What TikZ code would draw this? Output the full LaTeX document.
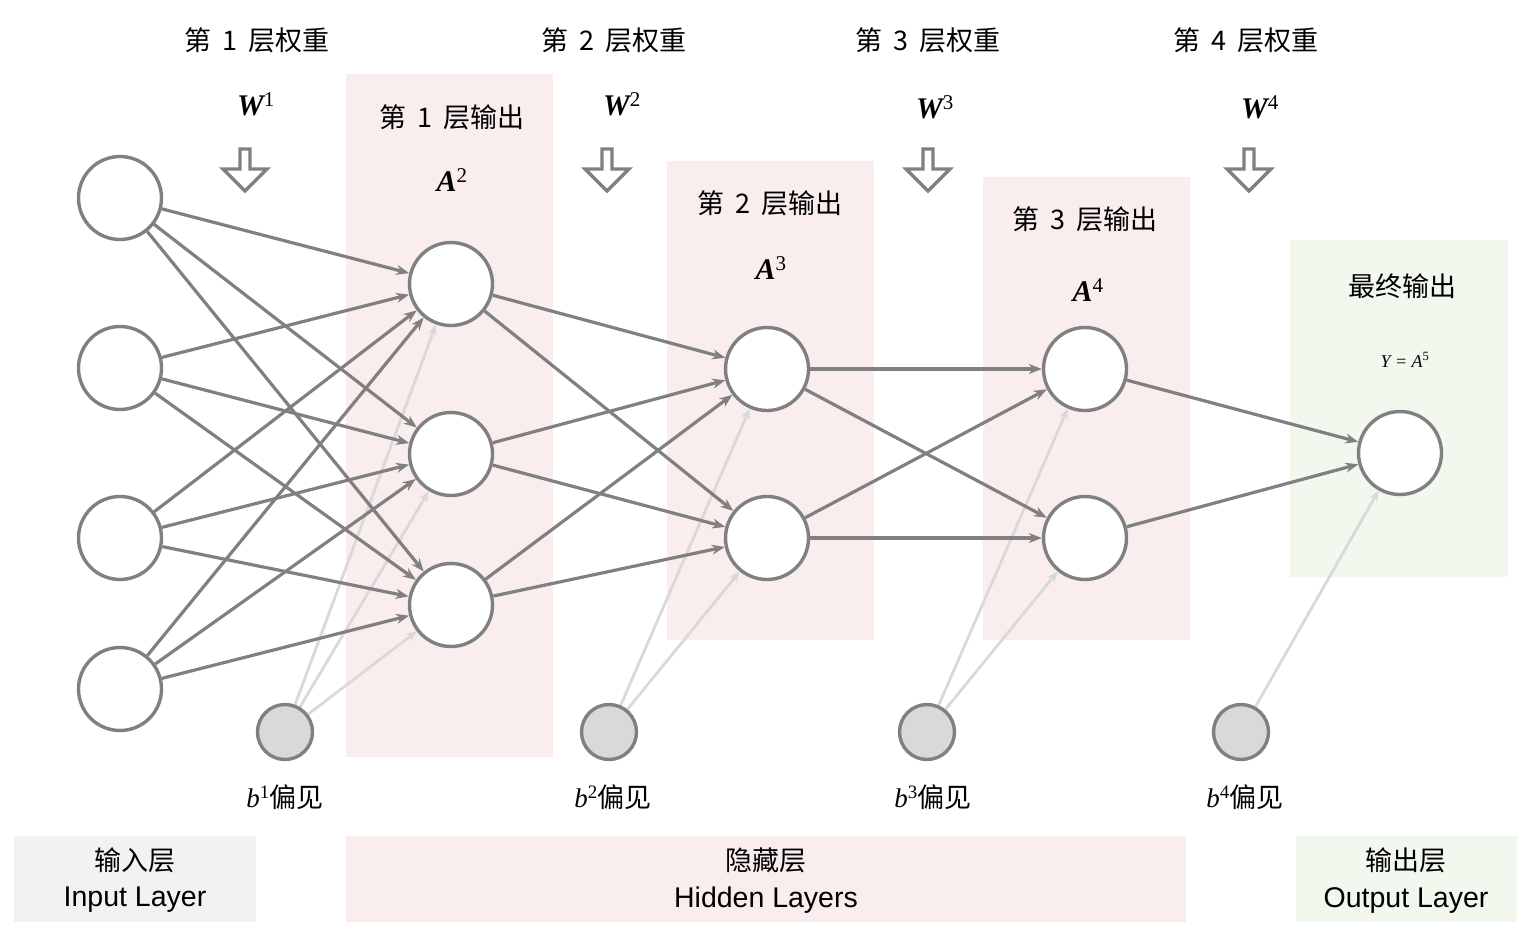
\documentclass[tikz,border=0pt]{standalone}
\usepackage{fontspec}
\setmainfont{Liberation Serif}
\newfontfamily\cjk{Noto Sans CJK SC}
\newfontfamily\lsans{Liberation Sans}
\usetikzlibrary{arrows.meta}
\definecolor{edgecol}{HTML}{808080}
\definecolor{biasedge}{HTML}{D9D9D9}
\definecolor{pinkbg}{HTML}{F9EDED}
\definecolor{greenbg}{HTML}{F3F8EE}
\definecolor{graybg}{HTML}{F2F2F2}
\definecolor{biasfill}{HTML}{D9D9D9}
\pgfdeclarelayer{bg}
\pgfdeclarelayer{edges}
\pgfsetlayers{bg,edges,main}
\tikzset{
  neuron/.style={circle, draw=edgecol, line width=3.4pt, fill=white, minimum size=83pt, inner sep=0pt},
  biasn/.style={circle, draw=edgecol, line width=3.4pt, fill=biasfill, minimum size=55pt, inner sep=0pt},
  conn/.style={draw=edgecol, line width=3.2pt, -{Stealth[length=13pt,width=10pt]}},
  bconn/.style={draw=biasedge, line width=2.8pt, -{Stealth[length=11pt,width=9pt]}},
  ttl/.style={font=\cjk\fontsize{27}{30}\selectfont, inner sep=0pt},
  mlab/.style={font=\fontsize{30}{32}\selectfont\bfseries\itshape, inner sep=0pt},
  blab/.style={font=\fontsize{27}{30}\selectfont, inner sep=0pt},
  enlab/.style={font=\lsans\fontsize{28.5}{30}\selectfont, inner sep=0pt},
  hollow/.style={draw=edgecol, line width=3.4pt, fill=white, line join=miter}
}
\newcommand{\upsup}[1]{\textsuperscript{\normalfont\mdseries\upshape #1}}
\newcommand{\gsp}{\hspace{0.42em}}
\begin{document}
\begin{tikzpicture}[x=1pt,y=-1pt]
\useasboundingbox (0,0) rectangle (1525,929);
% backgrounds
\begin{pgfonlayer}{bg}
\fill[pinkbg] (346,74) rectangle (553,757);
\fill[pinkbg] (667,161) rectangle (874,640);
\fill[pinkbg] (983,177) rectangle (1190,640);
\fill[greenbg] (1290,240) rectangle (1508,577);
\fill[graybg] (14,836) rectangle (256,922);
\fill[pinkbg] (346,836) rectangle (1186,922);
\fill[greenbg] (1296,836) rectangle (1517,922);
\end{pgfonlayer}
% titles
\node[ttl] (t1) at (257,40) {第\gsp{}1\gsp{}层权重};
\node[ttl] (t2) at (614,40) {第\gsp{}2\gsp{}层权重};
\node[ttl] (t3) at (928,40) {第\gsp{}3\gsp{}层权重};
\node[ttl] (t4) at (1246,40) {第\gsp{}4\gsp{}层权重};
\node[mlab] (w1) at (256,104) {W\upsup{1}};
\node[mlab] (w2) at (622,104) {W\upsup{2}};
\node[mlab] (w3) at (935,107) {W\upsup{3}};
\node[mlab] (w4) at (1260,107) {W\upsup{4}};
% hollow arrows
\foreach \cx in {245,607,928,1249}{
  \draw[hollow] (\cx-5,149) -- (\cx+5,149) -- (\cx+5,169) -- (\cx+22,169) -- (\cx,191) -- (\cx-22,169) -- (\cx-5,169) -- cycle;
}
% layer output labels
\node[ttl] (o1) at (452,117) {第\gsp{}1\gsp{}层输出};
\node[mlab] (a2) at (452,180) {A\upsup{2}};
\node[ttl] (o2) at (770,203) {第\gsp{}2\gsp{}层输出};
\node[mlab] (a3) at (771,268) {A\upsup{3}};
\node[ttl] (o3) at (1085,219) {第\gsp{}3\gsp{}层输出};
\node[mlab] (a4) at (1088,290) {A\upsup{4}};
\node[ttl] (o4) at (1402,286) {最终输出};
\node[inner sep=0pt, font=\fontsize{18}{20}\selectfont\itshape] (y5) at (1405,360) {Y = A\upsup{5}};
% neurons
\node[neuron] (i1) at (120,198) {};
\node[neuron] (i2) at (120,368) {};
\node[neuron] (i3) at (120,538) {};
\node[neuron] (i4) at (120,689) {};
\node[neuron] (h1) at (451,284) {};
\node[neuron] (h2) at (451,454) {};
\node[neuron] (h3) at (451,605) {};
\node[neuron] (g1) at (767,369) {};
\node[neuron] (g2) at (767,538) {};
\node[neuron] (k1) at (1085,369) {};
\node[neuron] (k2) at (1085,538) {};
\node[neuron] (out) at (1400,453) {};
\node[biasn] (b1) at (285,732) {};
\node[biasn] (b2) at (609,732) {};
\node[biasn] (b3) at (927,732) {};
\node[biasn] (b4) at (1241,732) {};
% bias labels
\node[blab] (lb1) at (285,797) {\textit{b}\upsup{1}{\cjk 偏见}};
\node[blab] (lb2) at (613,797) {\textit{b}\upsup{2}{\cjk 偏见}};
\node[blab] (lb3) at (933,797) {\textit{b}\upsup{3}{\cjk 偏见}};
\node[blab] (lb4) at (1245,797) {\textit{b}\upsup{4}{\cjk 偏见}};
% bottom labels
\node[ttl] (c1) at (135,860) {输入层};
\node[enlab] (e1) at (135,900) {Input Layer};
\node[ttl] (c2) at (766,860) {隐藏层};
\node[enlab] (e2) at (766,900) {Hidden Layers};
\node[ttl] (c3) at (1406,860) {输出层};
\node[enlab] (e3) at (1406,900) {Output Layer};
% edges
\begin{pgfonlayer}{edges}
\foreach \t in {h1,h2,h3} \draw[bconn] (b1) -- (\t);
\foreach \t in {g1,g2} \draw[bconn] (b2) -- (\t);
\foreach \t in {k1,k2} \draw[bconn] (b3) -- (\t);
\draw[bconn] (b4) -- (out);
\foreach \s in {i1,i2,i3,i4}
  \foreach \t in {h1,h2,h3} \draw[conn] (\s) -- (\t);
\foreach \s in {h1,h2,h3}
  \foreach \t in {g1,g2} \draw[conn] (\s) -- (\t);
\foreach \s in {g1,g2}
  \foreach \t in {k1,k2} \draw[conn] (\s) -- (\t);
\foreach \s in {k1,k2} \draw[conn] (\s) -- (out);
\end{pgfonlayer}
\end{tikzpicture}
\end{document}
